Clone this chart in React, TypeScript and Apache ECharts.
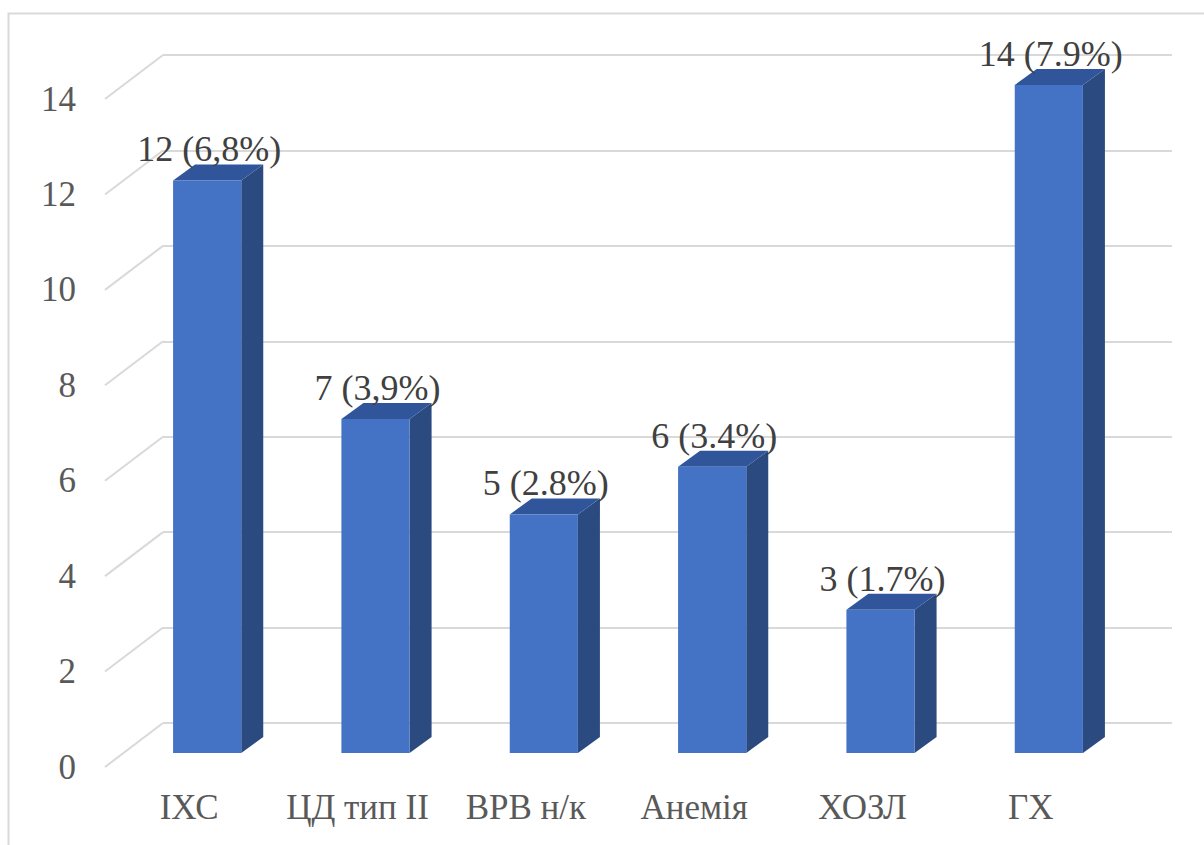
import React, { useEffect, useRef } from "react";
import * as echarts from "echarts";

// Comorbidity counts and their share of patients
const categories = ["ІХС", "ЦД тип ІІ", "ВРВ н/к", "Анемія", "ХОЗЛ", "ГХ"];
const counts = [12, 7, 5, 6, 3, 14];
const shares = ["6,8%", "3,9%", "2.8%", "3.4%", "1.7%", "7.9%"];
const yTicks = [0, 2, 4, 6, 8, 10, 12, 14];

const FONT = "Liberation Serif";
const FRONT = "#4472C4";
const TOP = "#30559A";
const SIDE = "#2A4A80";
const GRIDLINE = "#D9D9D9";

// perspective offsets
const DEPTH_X = 22;
const DEPTH_Y = -16;
const WALL_DX = 58;
const WALL_DY = 44;

export default function App() {
  const ref = useRef<HTMLDivElement>(null);

  useEffect(() => {
    if (!ref.current) return;
    const chart = echarts.init(ref.current, null, { renderer: "svg" });

    const option: any = {
      animation: false,
      backgroundColor: "#ffffff",
      grid: [
        // bar plane
        { left: 123, top: 85, width: 1010, height: 668 },
        // front plane (axis labels)
        { left: 105, top: 99, width: 1010, height: 668 },
        // back wall
        { left: 163, top: 55, width: 1009, height: 668 },
      ],
      xAxis: [
        { gridIndex: 0, type: "category", data: categories, show: false },
        {
          gridIndex: 1,
          type: "category",
          data: categories,
          axisLine: { show: false },
          axisTick: { show: false },
          axisLabel: {
            interval: 0,
            color: "#595959",
            fontFamily: FONT,
            fontSize: 35,
            margin: 23,
          },
        },
        { gridIndex: 2, type: "value", min: 0, max: 1, show: false },
      ],
      yAxis: [
        { gridIndex: 0, type: "value", min: 0, max: 14, interval: 2, show: false },
        {
          gridIndex: 1,
          type: "value",
          min: 0,
          max: 14,
          interval: 2,
          axisLine: { show: false },
          axisTick: { show: false },
          splitLine: { show: false },
          axisLabel: {
            color: "#595959",
            fontFamily: FONT,
            fontSize: 35,
            margin: 29,
          },
        },
        {
          gridIndex: 2,
          type: "value",
          min: 0,
          max: 14,
          interval: 2,
          axisLine: { show: false },
          axisTick: { show: false },
          axisLabel: { show: false },
          splitLine: { show: true, lineStyle: { color: GRIDLINE, width: 2 } },
        },
      ],
      graphic: [
        {
          type: "rect",
          shape: { x: 8.5, y: 13.5, width: 1400, height: 1000 },
          style: { fill: "none", stroke: GRIDLINE, lineWidth: 2 },
          silent: true,
          z: -10,
        },
      ],
      series: [
        {
          // side-wall grid lines running from the back wall to the front
          type: "custom",
          xAxisIndex: 2,
          yAxisIndex: 2,
          z: 1,
          silent: true,
          data: yTicks.map((v) => [0, v]),
          renderItem: (params: any, api: any) => {
            const p = api.coord([0, api.value(1)]);
            return {
              type: "line",
              shape: { x1: p[0], y1: p[1], x2: p[0] - WALL_DX, y2: p[1] + WALL_DY },
              style: { stroke: GRIDLINE, lineWidth: 2 },
            };
          },
        },
        {
          // 3D columns with value labels
          type: "custom",
          xAxisIndex: 0,
          yAxisIndex: 0,
          z: 5,
          data: counts.map((v, i) => [i, v]),
          renderItem: (params: any, api: any) => {
            const i = api.value(0);
            const v = api.value(1);
            const base = api.coord([i, 0]);
            const top = api.coord([i, v]);
            const bw = api.size([1, 0])[0] * 0.405;
            const x0 = base[0] - bw / 2;
            const x1 = base[0] + bw / 2;
            const yb = base[1];
            const yt = top[1];
            return {
              type: "group",
              children: [
                {
                  type: "polygon",
                  shape: {
                    points: [
                      [x1, yt],
                      [x1 + DEPTH_X, yt + DEPTH_Y],
                      [x1 + DEPTH_X, yb + DEPTH_Y],
                      [x1, yb],
                    ],
                  },
                  style: { fill: SIDE },
                },
                {
                  type: "polygon",
                  shape: {
                    points: [
                      [x0, yt],
                      [x0 + DEPTH_X, yt + DEPTH_Y],
                      [x1 + DEPTH_X, yt + DEPTH_Y],
                      [x1, yt],
                    ],
                  },
                  style: { fill: TOP },
                },
                {
                  type: "rect",
                  shape: { x: x0, y: yt, width: bw, height: yb - yt },
                  style: { fill: FRONT },
                },
                {
                  type: "text",
                  x: base[0] + 2,
                  y: yt - 31,
                  style: {
                    text: `${counts[i]} (${shares[i]})`,
                    fill: "#404040",
                    fontFamily: FONT,
                    fontSize: 36,
                    align: "center",
                    verticalAlign: "middle",
                  },
                },
              ],
            };
          },
        },
      ],
    };

    chart.setOption(option);
    return () => chart.dispose();
  }, []);

  return (
    <div
      ref={ref}
      style={{ position: "absolute", left: 0, top: 0, width: 1204, height: 845 }}
    />
  );
}
